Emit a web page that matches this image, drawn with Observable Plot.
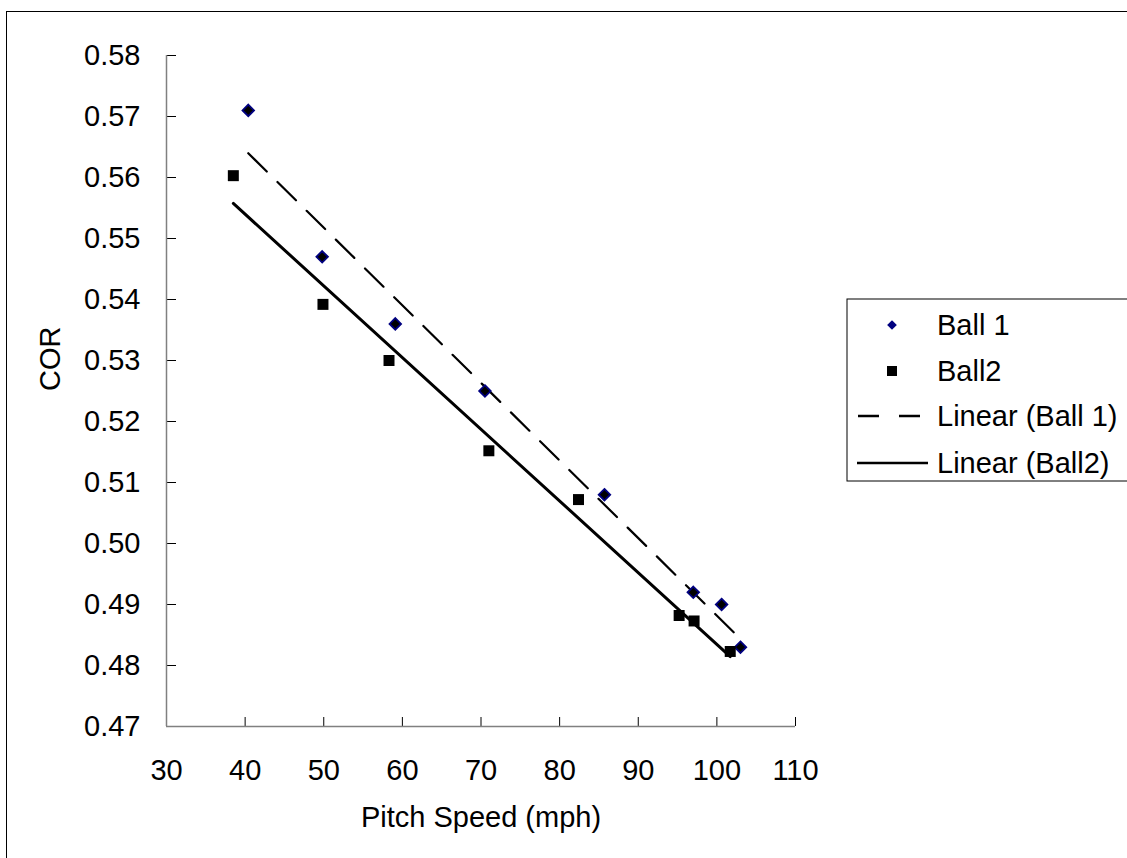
<!DOCTYPE html>
<html><head><meta charset="utf-8">
<script src="https://cdn.jsdelivr.net/npm/d3@7"></script>
<script src="https://cdn.jsdelivr.net/npm/@observablehq/plot@0.6"></script>
<style>
html,body{margin:0;padding:0;background:#fff;overflow:hidden;width:1127px;height:858px;}
#wrap{position:relative;width:1127px;height:858px;font-family:"Liberation Sans",Arial,sans-serif;overflow:hidden;}
#frame{position:absolute;left:6px;top:11px;width:1300px;height:1000px;border:1.5px solid #000;box-sizing:border-box;}
#chart{position:absolute;left:0;top:0;}
#legend{position:absolute;left:0;top:0;}
</style>
</head><body>
<div id="wrap"><div id="frame"></div><div id="chart"></div><svg id="legend" width="1127" height="858"></svg></div>
<script>
// Data
const ball1Speed = [40.4, 49.8, 59.1, 70.5, 85.7, 97.0, 100.6, 103.0];
const ball1COR   = [0.571, 0.547, 0.536, 0.525, 0.508, 0.492, 0.490, 0.483];
const ball2Speed = [38.5, 49.9, 58.3, 71.0, 82.4, 95.2, 97.1, 101.7];
const ball2COR   = [0.5603, 0.5392, 0.530, 0.5152, 0.5072, 0.4882, 0.4873, 0.4823];
const xTicks = [30, 40, 50, 60, 70, 80, 90, 100, 110];
const yTicks = [0.47, 0.48, 0.49, 0.50, 0.51, 0.52, 0.53, 0.54, 0.55, 0.56, 0.57, 0.58];
const seriesNames = ["Ball 1", "Ball2", "Linear (Ball 1)", "Linear (Ball2)"];
const xTitle = "Pitch Speed (mph)";
const yTitle = "COR";

const b1 = ball1Speed.map((s, i) => ({speed: s, cor: ball1COR[i]}));
const b2 = ball2Speed.map((s, i) => ({speed: s, cor: ball2COR[i]}));

const W = 1127, H = 858, mL = 166, mR = 332, mT = 55, mB = 132;
const innerH = H - mT - mB, innerW = W - mL - mR;
const FS = 29;

const plot = Plot.plot({
  width: W, height: H,
  marginLeft: mL, marginRight: mR, marginTop: mT, marginBottom: mB,
  x: {domain: [30, 110], axis: null},
  y: {domain: [0.47, 0.58], axis: null},
  style: {fontFamily: "'Liberation Sans', Arial, sans-serif", color: "#000", background: "transparent", overflow: "visible"},
  marks: [
    Plot.ruleX(xTicks, {insetTop: innerH - 9, stroke: "#000", strokeWidth: 1}),
    Plot.ruleY(yTicks, {insetRight: innerW - 10, stroke: "#000", strokeWidth: 1}),
    Plot.ruleY([0.47], {stroke: "#808080", strokeWidth: 1.5}),
    Plot.ruleX([30], {stroke: "#808080", strokeWidth: 1.5}),
    Plot.text(xTicks, {x: d => d, text: d => String(d), frameAnchor: "bottom", dy: 44, fontSize: FS, lineAnchor: "middle", fill: "#000"}),
    Plot.text(yTicks, {y: d => d, text: d => d.toFixed(2), frameAnchor: "left", dx: -26, textAnchor: "end", lineAnchor: "middle", fontSize: FS, fill: "#000"}),
    Plot.text([yTitle], {text: d => d, frameAnchor: "left", dx: -116, rotate: -90, fontSize: FS, lineAnchor: "middle", fill: "#000"}),
    Plot.text([xTitle], {text: d => d, frameAnchor: "bottom", dy: 91, fontSize: FS, lineAnchor: "middle", fill: "#000"}),
    Plot.linearRegressionY(b1, {x: "speed", y: "cor", ci: 0, stroke: "#000", strokeWidth: 2.2, strokeDasharray: "26,15"}),
    Plot.linearRegressionY(b2, {x: "speed", y: "cor", ci: 0, stroke: "#000", strokeWidth: 3}),
    Plot.dot(b1, {x: "speed", y: "cor", symbol: "diamond2", r: 5.2, fill: "#000", stroke: "#000080", strokeWidth: 1.8}),
    Plot.dot(b2, {x: "speed", y: "cor", symbol: "square", r: 6.2, fill: "#000", stroke: "none"})
  ]
});
document.getElementById("chart").appendChild(plot);

// Legend
const lg = d3.select("#legend");
lg.append("rect").attr("x", 847).attr("y", 299).attr("width", 400).attr("height", 182)
  .attr("fill", "#fff").attr("stroke", "#000").attr("stroke-width", 1);
const rows = [325, 371, 416, 463];
lg.append("path").attr("d", d3.symbol(d3.symbolDiamond2, 60)()).attr("transform", `translate(892,${rows[0]})`).attr("fill", "#000080");
lg.append("rect").attr("x", 887).attr("y", rows[1] - 5).attr("width", 10).attr("height", 10).attr("fill", "#000");
lg.append("line").attr("x1", 858).attr("x2", 928).attr("y1", rows[2]).attr("y2", rows[2]).attr("stroke", "#000").attr("stroke-width", 2.5).attr("stroke-dasharray", "21,20");
lg.append("line").attr("x1", 857).attr("x2", 928).attr("y1", rows[3]).attr("y2", rows[3]).attr("stroke", "#000").attr("stroke-width", 2.5);
seriesNames.forEach((name, i) => {
  lg.append("text").attr("x", 937).attr("y", rows[i]).attr("dy", "0.35em")
    .attr("font-size", FS).attr("font-family", "'Liberation Sans', Arial, sans-serif").attr("fill", "#000").text(name);
});
</script>
</body></html>
